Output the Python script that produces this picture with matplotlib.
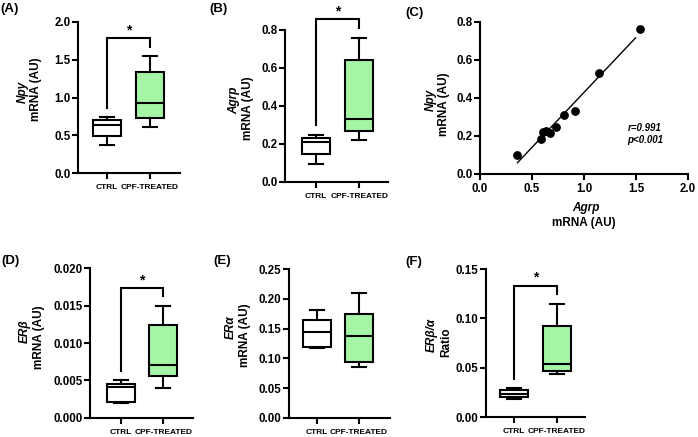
import numpy as np
import matplotlib
matplotlib.use("Agg")
import matplotlib.pyplot as plt
from matplotlib.ticker import FormatStrFormatter

plt.rcParams['font.family'] = ['Liberation Sans', 'DejaVu Sans']
plt.rcParams['font.weight'] = 'bold'

# ---------------- data ----------------
categories = ["CTRL", "CPF-TREATED"]
# box stats: [whisker low, Q1, median, Q3, whisker high]
npy_ctrl = [0.374, 0.492, 0.637, 0.703, 0.738]
npy_cpf = [0.615, 0.725, 0.923, 1.34, 1.547]
agrp_ctrl = [0.097, 0.146, 0.211, 0.234, 0.246]
agrp_cpf = [0.223, 0.269, 0.334, 0.642, 0.760]
erb_ctrl = [0.0020, 0.00214, 0.0041, 0.0045, 0.00504]
erb_cpf = [0.0040, 0.0056, 0.00705, 0.0124, 0.0150]
era_ctrl = [0.117, 0.119, 0.144, 0.165, 0.181]
era_cpf = [0.086, 0.094, 0.138, 0.174, 0.209]
ratio_ctrl = [0.0183, 0.0203, 0.0237, 0.0278, 0.0298]
ratio_cpf = [0.044, 0.0467, 0.0535, 0.0924, 0.115]

# correlation panel (C)
corr_x = [0.36, 0.59, 0.61, 0.63, 0.67, 0.73, 0.81, 0.915, 1.146, 1.536]
corr_y = [0.098, 0.183, 0.222, 0.227, 0.213, 0.248, 0.31, 0.332, 0.533, 0.761]

# significance brackets: [bracket top, left leg bottom, right leg bottom, star y]
sig_a = [1.78, 0.86, 1.67, 1.89]
sig_b = [0.856, 0.30, 0.81, 0.90]
sig_d = [0.0173, 0.0062, 0.0163, 0.0184]
sig_f = [0.133, 0.039, 0.125, 0.141]

# y tick values
yt_a = [0.0, 0.5, 1.0, 1.5, 2.0]
yt_b = [0.0, 0.2, 0.4, 0.6, 0.8]
yt_c = [0.0, 0.2, 0.4, 0.6, 0.8]
xt_c = [0.0, 0.5, 1.0, 1.5, 2.0]
yt_d = [0.0, 0.005, 0.010, 0.015, 0.020]
yt_e = [0.0, 0.05, 0.10, 0.15, 0.20, 0.25]
yt_f = [0.0, 0.05, 0.10, 0.15]

GREEN = '#a6f5a6'
W, H = 698, 437
fig = plt.figure(figsize=(W / 100, H / 100), dpi=100)

LW = 1.5


def add_ax(x0, x1, y0, y1):
    ax = fig.add_axes([x0 / W, 1 - y1 / H, (x1 - x0) / W, (y1 - y0) / H])
    for s in ['top', 'right']:
        ax.spines[s].set_visible(False)
    for s in ['left', 'bottom']:
        ax.spines[s].set_linewidth(LW)
    ax.tick_params(axis='both', width=LW, length=4, labelsize=8.3, pad=1.5)
    return ax


def ftext(x, y, s, **kw):
    fig.text(x / W, 1 - y / H, s, ha='center', va='center', **kw)


def box_panel(ax, ctrl, cpf, yticks, fmt, xlim):
    stats = []
    for lab, v in zip(categories, [ctrl, cpf]):
        stats.append(dict(label=lab, whislo=v[0], q1=v[1], med=v[2], q3=v[3], whishi=v[4]))
    bp = ax.bxp(stats, positions=[0, 1], widths=0.65, capwidths=0.33,
                patch_artist=True, showfliers=False,
                boxprops=dict(edgecolor='black', linewidth=LW),
                medianprops=dict(color='black', linewidth=LW),
                whiskerprops=dict(color='black', linewidth=LW),
                capprops=dict(color='black', linewidth=LW))
    for patch, col in zip(bp['boxes'], ['white', GREEN]):
        patch.set_facecolor(col)
    ax.set_xlim(*xlim)
    ax.set_ylim(yticks[0], yticks[-1])
    ax.set_yticks(yticks)
    ax.yaxis.set_major_formatter(FormatStrFormatter(fmt))
    ax.set_xticks([0, 1])
    ax.set_xticklabels(categories, fontsize=6, fontweight='bold')
    ax.tick_params(axis='x', pad=4)
    for t in ax.get_yticklabels():
        t.set_fontweight('bold')


def bracket(ax, sig):
    top, lb, rb, sy = sig
    ax.plot([0, 0, 1, 1], [lb, top, top, rb], color='black', lw=LW, clip_on=False,
            solid_joinstyle='miter')
    ax.text(0.5, sy, '*', ha='center', va='center', fontsize=10, fontweight='bold',
            clip_on=False)


YL = 8.5

# ---- Panel A ----
axA = add_ax(78, 180, 21.7, 173.3)
box_panel(axA, npy_ctrl, npy_cpf, yt_a, '%.1f', (-0.674, 1.70))
bracket(axA, sig_a)
ftext(10, 9, '(A)', fontsize=9.5, fontweight='bold')
ftext(22.5, 92, 'Npy', fontsize=YL, fontweight='bold', style='italic', rotation=90)
ftext(36, 89, 'mRNA (AU)', fontsize=YL, fontweight='bold', rotation=90)

# ---- Panel B ----
axB = add_ax(285, 388, 30, 182)
box_panel(axB, agrp_ctrl, agrp_cpf, yt_b, '%.1f', (-0.72, 1.67))
bracket(axB, sig_b)
ftext(218, 9, '(B)', fontsize=9.5, fontweight='bold')
ftext(234, 100, 'Agrp', fontsize=YL, fontweight='bold', style='italic', rotation=90)
ftext(248, 108, 'mRNA (AU)', fontsize=YL, fontweight='bold', rotation=90)

# ---- Panel C ----
axC = add_ax(480, 688, 22, 173.7)
axC.scatter(corr_x, corr_y, s=28, color='black', zorder=3, clip_on=False)
fit = np.polyfit(corr_x, corr_y, 1)
xx = np.array([min(corr_x), max(corr_x) - 0.04])
axC.plot(xx, np.polyval(fit, xx), color='black', lw=1.0)
axC.set_xlim(xt_c[0], xt_c[-1])
axC.set_ylim(yt_c[0], yt_c[-1])
axC.set_xticks(xt_c)
axC.set_yticks(yt_c)
axC.xaxis.set_major_formatter(FormatStrFormatter('%.1f'))
axC.yaxis.set_major_formatter(FormatStrFormatter('%.1f'))
axC.tick_params(axis='x', pad=3)
axC.text(1.42, 0.243, 'r=0.991', fontsize=7, fontweight='bold', style='italic', va='center')
axC.text(1.42, 0.180, 'p<0.001', fontsize=7, fontweight='bold', style='italic', va='center')
ftext(415, 13, '(C)', fontsize=9.5, fontweight='bold')
ftext(430.5, 100, 'Npy', fontsize=YL, fontweight='bold', style='italic', rotation=90)
ftext(444, 104, 'mRNA (AU)', fontsize=YL, fontweight='bold', rotation=90)
ftext(586, 208, 'Agrp', fontsize=YL, fontweight='bold', style='italic')
ftext(584, 223, 'mRNA (AU)', fontsize=YL, fontweight='bold')

# ---- Panel D ----
axD = add_ax(90, 193, 268.3, 417.7)
box_panel(axD, erb_ctrl, erb_cpf, yt_d, '%.3f', (-0.74, 1.71))
bracket(axD, sig_d)
ftext(11, 261, '(D)', fontsize=9.5, fontweight='bold')
ftext(25, 331, 'ERβ', fontsize=YL, fontweight='bold', style='italic', rotation=90)
ftext(39, 337, 'mRNA (AU)', fontsize=YL, fontweight='bold', rotation=90)

# ---- Panel E ----
axE = add_ax(289, 390, 269, 418)
box_panel(axE, era_ctrl, era_cpf, yt_e, '%.2f', (-0.67, 1.74))
ftext(222, 261, '(E)', fontsize=9.5, fontweight='bold')
ftext(231, 327, 'ERα', fontsize=YL, fontweight='bold', style='italic', rotation=90)
ftext(245, 335, 'mRNA (AU)', fontsize=YL, fontweight='bold', rotation=90)

# ---- Panel F ----
axF = add_ax(486, 585, 269, 417)
box_panel(axF, ratio_ctrl, ratio_cpf, yt_f, '%.2f', (-0.65, 1.65))
bracket(axF, sig_f)
ftext(414, 262, '(F)', fontsize=9.5, fontweight='bold')
ftext(432, 335, 'ERβ/α', fontsize=YL, fontweight='bold', style='italic', rotation=90)
ftext(446, 342, 'Ratio', fontsize=YL, fontweight='bold', rotation=90)

fig.savefig('out.png', dpi=100)
